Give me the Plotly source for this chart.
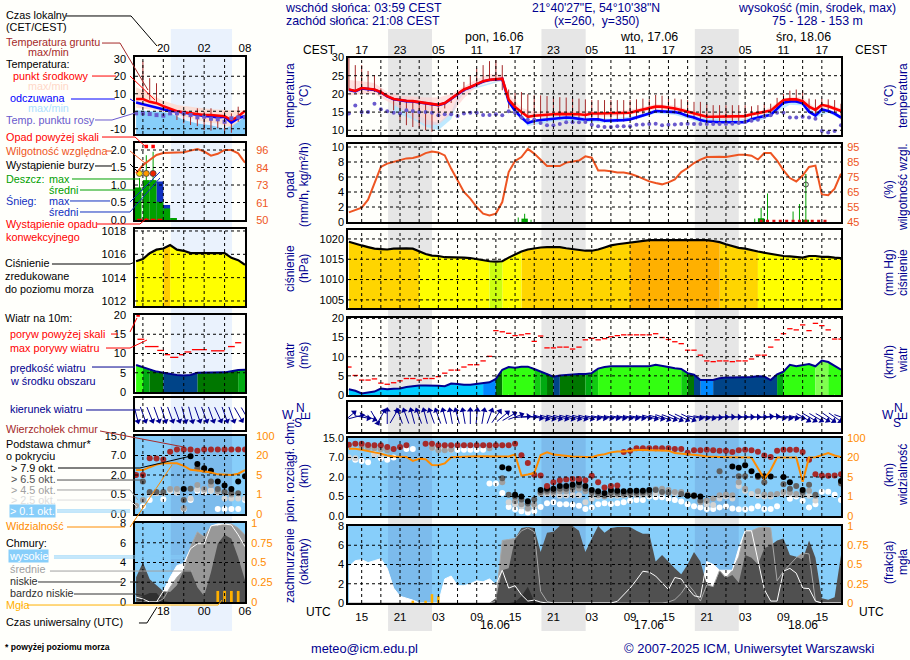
import numpy as np
import plotly.graph_objects as go

# ---- time axes: hours from 15.06 00 UTC (main), arbitrary legend day (left)
T = list(range(13, 91))
LT = list(range(14, 31))
SUN_NIGHTS = [(19.13, 26.0), (43.13, 50.05), (67.13, 74.0)]
LEFT_NIGHT = (19.1, 28.1)

TOP_TICKS = [15, 21, 27, 33, 39, 45, 51, 57, 63, 69, 75, 81, 87]
TOP_LABELS = ['17', '23', '05', '11', '17', '23', '05', '11', '17', '23', '05', '11', '17']
UTC_LABELS = ['15', '21', '03', '09', '15', '21', '03', '09', '15', '21', '03', '09', '15']
L_TICKS = [18, 24, 30]
L_TOP_LABELS = ['20', '02', '08']
L_UTC_LABELS = ['18', '00', '06']

# ---- main panel series, hourly t=13..90
TEMP = [21.2,20.8,21.6,21.5,21.2,20.5,19.4,18.6,18.3,18.1,
        18.0,17.8,17.5,17.2,17.0,17.5,18.7,20.1,21.2,21.9,
        22.8,23.5,23.9,24.1,24.2,18.4,16.4,15.0,13.7,14.0,
        14.2,14.3,14.4,14.5,14.5,14.5,14.4,14.2,14.6,14.6,
        14.6,14.6,14.6,14.6,14.8,15.3,15.7,16.1,16.5,16.5,
        16.3,16.0,15.6,15.1,14.6,14.2,13.7,13.7,13.7,13.7,
        13.7,13.7,13.9,14.4,14.8,15.0,15.4,16.9,18.3,18.5,
        18.5,18.0,16.5,15.6,17.0,16.6,16.0,15.3]
FEELS = [21.1,20.7,21.5,21.4,21.1,20.4,19.3,18.5,18.2,18.0,
         17.9,17.7,17.4,17.1,16.9,17.4,18.6,20.0,21.1,21.8,
         22.7,23.4,23.8,24.0,24.1,17.9,15.3,13.5,12.0,12.6,
         12.8,13.0,13.2,13.4,13.5,13.4,13.2,12.9,13.0,13.0,
         12.6,12.6,12.7,12.8,13.0,13.5,14.2,14.6,15.3,15.2,
         15.0,15.0,14.6,13.9,13.5,12.8,12.4,12.2,12.2,12.2,
         12.2,12.2,12.2,13.0,13.5,13.9,14.2,16.0,17.6,17.9,
         17.9,17.4,15.1,14.0,15.7,15.3,14.6,13.5]
DEW = [14.6,16.8,15,15,17.3,15.8,15.2,14.8,14.6,15.5,
       15.3,15,15,14.8,14.1,14.4,14.4,13.9,14.6,14.8,
       14.8,14.2,14.2,14.4,14.1,15.2,14.8,13.5,12.9,12.9,
       12,11.4,11.4,11.7,12.2,12.2,12.2,12.3,11.5,11.1,
       10.9,10.9,11.1,11.1,11.1,11.5,11.6,11.7,11.8,11.4,
       11.5,11.6,11.7,11.8,11.7,11.7,11.7,11.7,11.7,11.7,
       11.8,12,12.3,12.6,12.9,13.7,14.1,14.8,14.8,13.5,
       13.5,13.7,13.5,13.2,9.8,9.4,9.8,11.4]
TG_MAX = [30,27.9,27.9,26.3,25.1,21.5,19.8,18.9,18.5,18.3,
          18.2,18,17.8,17.5,17.3,17.7,18.9,20.4,23.3,25.1,
          27,27.9,29,29.3,27.9,21.2,20.3,20.5,19.9,19.6,
          19.6,19.4,19.2,19.1,19,18.8,18.7,18.5,18.3,18.3,
          18.3,18.3,18.3,18.3,18.3,18.5,18.7,18.5,19.7,19.5,
          18.7,18.7,18.5,18.3,17.8,17.8,17.2,16.9,16.9,16.9,
          16.9,16.9,16.9,16.6,16.9,17.3,17.3,18.9,20,20.9,
          21.2,20.9,18.7,18.5,18.7,18.5,18.3,17.3]
TG_MIN = [21,20.8,20,20.5,20.5,20,19,15.5,12.7,11.4,
          10.9,10.7,10,9.6,14.2,16,17.5,18.4,20.5,21.5,
          22.5,23,23.5,24,21,16,14.5,13,12,11.4,
          12,12.4,12.8,13,13,13,12.8,12.5,12.5,12.5,
          12.2,12.2,12.3,12.4,12.6,13,13.8,14.2,15,14.8,
          14.6,14.6,14.2,13.5,13,12.4,12,11.8,11.8,11.8,
          11.8,11.8,11.8,12.5,13,13.5,13.8,15.6,17.2,17.5,
          17.5,17,14.8,13.6,15.3,14.9,14.2,13]

PINK_T = [13,15,17,19,21,23,25,27,29,31,33,35,37,38,40,42,46,50,54,58,61,64,68,74,78,80,82,84,86,88,90]
PINK_HI = [23.8,23.5,23,20.5,19.5,19.3,19,19,20,22,24,25.5,25.3,20,16.2,15,15.3,15.2,15,16,17.2,16.8,14.7,14.3,15.5,17.5,19.3,19,16.2,17.3,16]
PINK_LO = [19.5,20,20,18,16,13.5,11.5,11.5,14.5,18.8,22,23.3,23.5,17.5,14.3,13.5,14,13.8,13.8,14.6,15.8,15.4,13.5,13.2,14.4,16.2,17.8,17.6,15,16,14.8]
ICE_T = [20,23,25,27,29,30,31,37,38,41,46,50,54,58,61,64,68,74,78,80,82,84,86,88,90]
ICE_HI = [18,15,13,12,15,19,21,24,18,12.6,14,13.6,13.2,14,15.8,15.5,13.4,12.8,14.4,16.6,18.4,18,14.6,15.8,14]
ICE_LO = [15,13,11,10,13,17.5,20.5,23.6,17,11.2,12.7,12.3,12,13,14.7,14.2,12.2,11.7,13,15,17,16.8,13.5,14.8,13]

RH = [51.4,52.8,54.6,59.9,70.6,81.7,83.9,85.2,86.6,87.4,
      87.7,88.8,90.9,92,91.4,89.4,80.6,72.8,65,60.6,
      55,50.6,49.4,50.6,58.3,78.3,85.7,88.3,93.7,90.6,
      86.6,82.3,82.3,82.3,84.6,85.4,86,88.8,87.9,79.4,
      79.4,78.8,78,78,77.2,75.7,73.9,72.1,71,70.1,
      71.4,73.4,78.3,81,84.3,86.6,88.3,88.5,88.5,88.3,
      89.2,89.9,89.9,89.2,86.6,91,91,86,79.4,74.3,
      72,76,81.7,82.6,63.4,62.8,67.2,77.2]
RAIN_T = [40.5, 77.5, 84.5]
RAIN_MEAN = [0.45, 0.5, 0.3]
RAIN_MAX_T = [39.5, 40.5, 41.5, 76.5, 77.5, 78.5, 82.5, 83.5, 84.5]
RAIN_MAX = [0.6, 1.1, 0.3, 0.45, 1.9, 3.8, 1.4, 2.4, 6.4]
CONV_T = [77.5, 78.5, 79.5, 80.5, 81.5, 82.5, 83.5, 84.5, 85.5, 86.5, 87.5]
CONV_Y = [0.1] * 11
STORM_T = [84.5]
STORM_Y = [5.0]

PRESS = [1019.3,1018.8,1018.4,1018,1017.6,1017.5,1017.4,1017.6,1017.7,1017.7,
         1017.6,1016.9,1016.3,1015.9,1015.8,1015.5,1015.5,1015.4,1015.4,1015.3,
         1015,1014.8,1014.5,1014.4,1014.5,1015.4,1016.2,1016.9,1017.4,1017.7,
         1017.9,1018,1018,1018,1017.7,1017.5,1017.3,1017.1,1017.1,1017.4,
         1017.9,1018.4,1018.7,1018.9,1019.1,1019.3,1019.6,1019.7,1019.7,1019.7,
         1019.7,1019.7,1019.7,1019.8,1019.8,1019.8,1019.7,1019.5,1019.2,1018.7,
         1018.2,1017.8,1017.6,1017.2,1016.9,1016.6,1016.3,1016,1015.8,1015.7,
         1015.5,1015.4,1015.8,1015.8,1015.6,1015.6,1015.4,1015.3]
WIND = [1.5,1.1,.4,.6,.9,1.7,1.5,1.6,1.7,2.1,
        2.4,2.5,2.5,2.5,2.4,2.3,3,2.9,2.7,2.7,
        2.9,3,3.3,4.2,6.6,7.3,7.1,7.4,7.4,6.8,
        6.1,5.6,4.8,5.1,5.3,5.4,5.5,5.5,5.7,6.9,
        7.3,7.5,7.5,7.5,7.5,7.5,7.5,7.5,7.9,7.5,
        7.3,7,6.8,5.7,5.3,3.9,3.9,3.9,4.4,4.6,
        4.6,4.6,4.6,4.7,4.9,4.8,3.9,5.4,6.1,7.9,
        7.5,7.9,8.1,7.5,9,8.6,7.5,6.6]
GUST = [7.3,5.1,3.9,3.9,4.2,3.1,2.8,3.2,3.7,4.3,
        4.3,3.9,4.3,4.3,4.8,5.7,6.5,6.5,7.3,7.9,
        7.9,8.9,10.1,16.8,16.5,16.1,15.5,15.7,16,14,
        15.4,12.3,12.3,12.5,12.5,12,12.5,14.4,14.8,14.4,
        14.7,15.2,15.5,15.7,15.7,15.7,15.7,15.7,16,15,
        14.5,13.9,13.4,11.7,11.7,10.4,8.9,8.7,8.9,8.9,
        8.7,8.9,8.9,9.4,10.4,10.4,12.5,14.4,16,17.3,
        17,18.3,16.8,18.7,18.1,17,14.6,14.6]
WIND_DIR = [50,75,100,110,150,30,0,30,340,340,
            345,340,345,340,340,345,350,345,350,0,
            5,10,20,35,50,60,70,85,90,100,
            105,105,105,105,105,105,105,105,100,100,
            100,100,100,100,100,100,100,105,105,110,
            110,115,115,115,100,100,100,95,90,90,
            90,90,90,90,90,85,85,100,100,100,
            100,120,120,120,120,125,125,110]
VIS = [56,56,52,45,41,36,28,24,22,22,
       17.4,19,18.6,14.3,14,15.5,21,23,24,24,
       25,25,25,25,22,24,32,6,6.9,8,
       30,41,32,29,24,24,23,22,21,29,
       33,41,45,45,49,51,51,51,51,51,
       48,38,36,32,29,28,24,22,21,21,
       21,21,21,20,11.7,4.6,10.4,20,20,20,
       20,4,20,21,28,38,28,22]

# cloud tops and bases (km)
TOP = [12.2,12.6,12.6,12.1,12,12,11.3,10.5,11.3,12,
       None,None,12.6,12.6,12,12,12,12,12,12,
       12,12,12,12,12,12,12.6,7.9,5.6,2.6,
       2.4,1.3,1.6,1.75,1.8,1.85,1.85,1.75,2.3,1.6,
       1.2,1.3,1.35,9.3,9.8,10.8,10.8,10.8,10.8,10.8,
       10.8,10.5,10.5,9,10,10,10.2,10,9.8,9.8,
       9.3,10,10.2,10,9.4,7.8,7.2,9.8,10.2,10.2,
       10.2,9.3,6.4,2.7,2.4,2.3,2.4,2.7]
B79_T = [37,38,39,40,41,43,44,45,46,47,48,49,50,51,52,53,54,55,56,57,58,59,60,66,67,68,73,74,75,76,77,78,79,81,82,84,90]
B79 = [4.5,4.2,.63,.5,.38,1,1.1,1.1,1.3,1.3,1.4,1.6,1.3,1,.9,.76,1,.95,.9,.95,.95,.95,1,.55,.55,.5,4.7,4.4,5,3.5,2.3,2.2,2.1,2,1.6,1,1.7]
B65_T = [37,38,39,40,41,42,43,44,45,46,47,48,49,50,51,52,53,54,55,56,57,58,59,60,61,62,63,65,66,67,68,71,74,75,77,78,81,82,83,84,85,86,90]
B65 = [1.9,.63,.5,.42,.32,.42,.85,.95,.95,1.1,1.1,1.2,1.35,1.1,.85,.75,.6,.8,.78,.75,.78,.78,.8,.85,1,.85,.8,.7,.6,.6,.4,3.5,2.2,2.2,2,1.6,1.45,1.1,1.3,.85,1.4,.63,1.5]
B45_T = [15,16,17,18,19,26,27,28,29,35,37,39,40,41,42,43,44,45,46,47,48,49,50,51,52,53,54,55,56,57,58,59,60,61,62,63,64,65,66,67,68,69,70,71,72,73,74,75,77,78,79,80,81,82,83,84,85,86]
B45 = [11.5,11,10.8,10.5,10,11,10,10,10.2,10.8,1.6,.38,.3,.2,.3,.75,.8,.8,.9,.9,1,1.1,.9,.7,.6,.5,.65,.65,.62,.65,.65,.68,.7,1.05,1.1,1,.85,.85,.65,.5,.35,.4,.45,.6,.65,.6,1.6,1.1,.9,.65,.65,.7,.85,.8,.7,.6,.95,.55]
B25_T = [13,14,17,18,26,27,28,29,38,39,40,41,42,43,44,45,46,47,48,49,50,51,52,53,54,55,56,57,58,59,60,61,62,63,64,65,69,70,71,72,73,74,75,76,77,78,79,81,82,83,85,86]
B25 = [7,6.8,8,8,11,10.3,10.3,10.4,.35,.3,.25,.18,.25,.7,.7,.7,.55,.57,.6,.6,.35,.44,.5,.55,.55,.55,.58,.6,.6,.6,.6,.75,.75,.75,.75,.75,.3,.28,.45,.5,.45,1.3,.95,.7,.55,.5,.5,.7,.7,.6,.55,.4]
B01_T = [14,15,16,17,18,19,20,22,23,26,27,28,29,30,31,32,33,34,35,36,37,38,39,40,41,42,43,44,45,46,47,48,49,50,51,52,53,54,55,56,57,58,59,60,61,62,63,64,65,66,67,68,69,70,71,72,73,74,75,76,77,78,79,80,82,83,84,85,86,87,88,89,90]
B01 = [6.4,6.1,5.8,8.3,6.8,6.4,7,10.5,10.5,12,10.5,10.5,10.2,10.2,10.2,10.2,10.2,10.2,1.5,1.5,.76,.23,.17,.12,.09,.12,.23,.33,.35,.3,.3,.29,.26,.18,.22,.3,.33,.31,.33,.35,.39,.41,.41,.5,.48,.48,.44,.41,.37,.3,.25,.22,.18,.18,.22,.25,.19,.17,.17,.19,.25,.18,.18,.25,.44,.5,.39,.22,.3,.86,.86,.63,.41]

# cloud cover (octants), fog (fraction)
HIGH = [3.8,4.4,4.5,4.2,4.4,4.6,3.6,1.55,.7,.5,
        .3,0,0,0,0,2.5,2.8,1.8,1.8,2,
        2.3,2.2,2.5,1.9,3.4,1.55,1.8,.85,.2,.3,
        .1,0,0,0,0,0,0,0,0,0,
        0,0,.17,.85,1.55,2.4,3.3,3.2,2.8,2.1,
        1.4,2.65,2.5,1.55,.76,.6,4.3,4,3.4,3.4,
        3.4,5.7,7.5,7.5,4.3,1.4,.2,.2,3.3,3.6,
        3.1,1.55,1.5,.2,0,0,0,0]
MID = [0,0,0,0,0,0,0,0,0,0,
       0,0,0,0,0,0,0,0,0,0,
       0,0,0,.2,6.5,6.6,6.7,7.5,7.8,7.4,
       1.2,.17,0,0,0,0,0,0,0,0,
       0,0,0,0,0,0,0,0,0,0,
       .1,.35,1,2,1.2,.2,1.9,1.7,3.4,2.6,
       3.4,4.8,7.5,7.5,7.8,7.9,7.8,2.3,3.3,4,
       4.7,5.2,5.1,.2,0,0,0,0]
LOW = [0,0,0,0,0,0,0,0,0,0,
       0,0,0,0,0,0,0,0,0,0,
       0,0,0,.5,3.4,3.6,6.7,7.8,7.9,7.8,
       5.3,7.3,7.4,8,8,8,7.5,5.3,6.7,8,
       7.3,7.8,7.9,7.9,7.9,7.5,7.2,7.2,4.3,5,
       4.3,3.6,3,4,5.3,4.3,1.9,1.7,3.3,2.6,
       2.9,2.1,5,4.7,4,5.7,6,6.5,6.7,5,
       4.8,4.5,6.5,4.7,.5,.35,.6,5]
VLOW_T = [38, 39, 40, 41, 42, 43]
VLOW = [0, .1, .7, 1.7, .2, 0]
FOG_T = [23, 25, 26, 27]
FOG = [.03, .03, .115, .09]

# ---- left (legend) panel series, hourly t=14..30
L_TEMP = [7,7,5.4,4.6,2.9,1.3,0,-.6,-1.2,-1.8,-2.2,-2.2,-2.6,-2.8,-5,-3,.2]
L_FEELS = [5,4,2.8,2,.9,.1,-.1,-.8,-1.2,-1.8,-2.7,-3,-3.5,-3.2,-6.6,-4,-2.7]
L_DEW = [-1.2,-1.2,-1.6,-2.2,-2.5,-1.2,-1.2,-1.2,-2.2,-3.5,-3.1,-4.3,-4.6,-6,-4,-3.5,-3.5]
L_TG_T = list(range(15, 30))
L_TG_MAX = [28.5,18.9,16,2.6,1,-.2,-2.2,-2.2,1.7,-.2,1.7,-3.1,-.2,-1.2,2.6]
L_TG_MIN = [6.5,6.5,4.5,-.2,-1.2,-5,-6.9,-7.9,-8.5,-10.8,-11.1,-9.8,-12.7,-12.3,-6]
L_PINK_T = [14,16,18,20,22,24,26,28,30]
L_PINK_HI = [13.7,10,6,3.5,2.5,1.5,1,.5,.5]
L_PINK_LO = [2,1,0,-2,-4,-6,-7,-9,-3]
L_SKY_T = [14,18,19,21,23,25,27,29,30]
L_SKY = [.5,-.5,-1,-5,-7,-8,-10,-6,-2.5]
L_RH = [80.7,86,89.4,92.7,94,94.2,94.5,94.5,95.6,96.7,95,92.3,93.5,96,96,93.8,87.7]
L_RAIN_T = [14.3,15.5,16.5,17.5,18.5,19.5]
L_RAIN = [.93,1.14,1.14,.52,.33,.05]
L_SNOW = [0,0,0,1.1,.43,0]
L_RAIN_MAX_T = [14.5,15.5,16.5]
L_RAIN_MAX = [1.2,1.85,1.95]
L_DROP_T = [15.5,16.5]
L_DROP_Y = [2.1,2.1]
L_STORM_T = [14.5,15.5,16.5]
L_STORM_Y = [1.33,1.33,1.33]
L_STORM_C = ['#FFE000','#FF9900','#EE2200']
L_CONV_T = [14.5,15.5,16.5,17.5]
L_PRESS = [1015.4,1015.6,1016.1,1016.4,1016.5,1016.8,1016.4,1016.3,1016.1,1016.1,1016.1,1016.1,1016.1,1016.1,1015.7,1015.5,1015.1]
L_WIND = [7,6.5,5.8,5.3,5,4.7,4.4,4.3,4.4,5,5,5,5,5.1,5.4,5.7,5.8]
L_GUST_T = [14.7,16.3,17.6,18.6,19.6,20.7,21.6,23.3,26,28,29]
L_GUST_W = [.5,1,.5,.4,.6,.4,.5,1.1,1,.5,.45]
L_GUST = [13.7,11.8,10.8,9.7,9,9.7,10.4,11,10.7,11.8,12.8]
L_GUST_OVER_T = [14.3]
L_GUST_OVER = [20]
L_DIR = [165,160,158,160,162,160,160,165,165,160,160,160,155,160,160,150,150]
L_TOP = [2,2,6.3,6.2,6,8.5,9.5,9.5,9.5,8.9,9.5,9.5,9.5,9.5,9.5,9.5,9.5]
L_B79_T = [21,22,23,24,25,26,27,28,29,30]
L_B79 = [.93,6.8,4.8,3.7,3.1,1.5,1.2,.93,1.5,1.9]
L_B65_T = [15,16,17,18,21,22,23,24,25,26,27,28,29]
L_B65 = [1.5,.7,.7,.7,.36,.95,3.7,3.3,1.5,.93,.7,.62,.6]
L_B45_T = [14,15,19,20,21,23,24,25,26,27,28]
L_B45 = [.21,.36,.93,.93,.15,1.24,.93,1.24,.75,.7,.5]
L_B25_T = [16,17,18,19,20,22,23,24,25,26,27,28,29,30]
L_B25 = [.55,.6,.6,.85,.65,.4,.9,.8,.8,.65,.4,.4,.4,.4]
L_B01_T = [14,15,16,18,19,20,21,22,23,24,25,26,27,28,29,30]
L_B01 = [.21,.2,.36,.38,.78,.65,.13,.36,.78,.68,.78,.13,.13,.13,.13,.36]
L_VIS = [8.8,8.8,11,13,14,14,14,12,9,8.5,8,7,5.5,5,5,6,8.8]
L_LOW = [2.5,4,2.3,1.7,1.1,1,1.7,3.2,3.2,1.5,.6,3,5.9,6.8,6.4,4.5,2.2]
L_MID = [0,0,0,0,.3,1.5,2.5,3.2,5.6,7.1,6.6,7.7,7.7,7.9,7.9,7.5,6.8]
L_HIGH = [.5,.3,0,0,1.1,2.5,3.7,3.9,5.4,5.9,5.9,7.7,7.9,7.9,7.8,6.8,5.6]
L_VLOW = [0,.6,.9,.9,.1,0,0,0,0,0,0,0,0,0,0,0,0]
L_FOG_T = [26,27,28,29]
L_FOG = [.14,.14,.14,.14]

BASE_KM = [0, .5, 2, 7, 15]
VIS_KM = [0, 1, 5, 20, 100]

FONT = 'Liberation Sans'
PAGE = '#FFFFFB'
NAVY = '#000090'
SKY = '#87CEFA'
SKY_NIGHT = '#7CBBEC'
ORANGE = '#FF8C00'
RH_COL = '#EE5522'
BROWN = '#A52A2A'
W, H = 910, 660


def xp(x):
    return x / W


def yp(y):
    return 1 - y / H


fig = go.Figure()
layout = {}
shapes = []
annots = []
n_axis = [0]


def new_id():
    n_axis[0] += 1
    return '' if n_axis[0] == 1 else str(n_axis[0])


def panel(xpx, ypx, xr, yr, yticks, ylabels, rr=None, rticks=None, rlabels=None, rcol='black',
          top=None, bottom=None, gridy=None, gridx=None, lgap=0, rgap=3, size=11, standoff=0):
    i = new_id()
    xax = dict(domain=[xp(xpx[0]), xp(xpx[1])], range=xr, anchor='y' + i, showgrid=False, zeroline=False,
               showline=True, mirror=True, linecolor='black', linewidth=1.5, fixedrange=True,
               tickfont=dict(family=FONT, size=11.5, color='black'), ticks='', showticklabels=False)
    if top:
        xax.update(side='top', showticklabels=True, tickmode='array', tickvals=top[0], ticktext=top[1],
                   ticks='outside', ticklen=2, tickcolor='rgba(0,0,0,0)', ticklabelstandoff=standoff)
    if bottom:
        xax.update(side='bottom', showticklabels=True, tickmode='array', tickvals=bottom[0], ticktext=bottom[1],
                   ticks='outside', ticklen=2, tickcolor='rgba(0,0,0,0)', ticklabelstandoff=standoff)
    yax = dict(domain=[yp(ypx[1]), yp(ypx[0])], range=yr, anchor='x' + i, showgrid=False, zeroline=False,
               showline=True, mirror=True, linecolor='black', linewidth=1.5, fixedrange=True,
               tickfont=dict(family=FONT, size=size, color='black'), tickmode='array',
               tickvals=yticks, ticktext=ylabels, ticks='outside' if lgap else '', ticklen=lgap,
               tickcolor='rgba(0,0,0,0)')
    layout['xaxis' + i] = xax
    layout['yaxis' + i] = yax
    ra = None
    if rr is not None:
        j = new_id()
        ra = 'y' + j
        layout['yaxis' + j] = dict(domain=yax['domain'], range=rr, anchor='x' + i, overlaying='y' + i, side='right',
                                   showgrid=False, zeroline=False, fixedrange=True, showline=False,
                                   tickfont=dict(family=FONT, size=size, color=rcol), tickmode='array',
                                   tickvals=rticks, ticktext=rlabels, ticks='outside' if rgap else '', ticklen=rgap,
                                   tickcolor='rgba(0,0,0,0)')
    xa, ya = 'x' + i, 'y' + i
    for g in (gridy or []):
        shapes.append(dict(type='line', xref=xa + ' domain', yref=ya, x0=0, x1=1, y0=g, y1=g, layer='above',
                           line=dict(color='black', width=1, dash='3px,3px')))
    for g in (gridx or []):
        shapes.append(dict(type='line', xref=xa, yref=ya + ' domain', x0=g, x1=g, y0=0, y1=1, layer='above',
                           line=dict(color='black', width=1, dash='3px,3px')))
    return xa, ya, ra


def add_line(xa, ya, x, y, col, width=2):
    fig.add_trace(go.Scatter(x=x, y=y, xaxis=xa, yaxis=ya, mode='lines', line=dict(color=col, width=width),
                             hoverinfo='skip', connectgaps=False))


def add_dots(xa, ya, x, y, col, size=6, sym='circle'):
    fig.add_trace(go.Scatter(x=x, y=y, xaxis=xa, yaxis=ya, mode='markers',
                             marker=dict(color=col, size=size, symbol=sym, line=dict(width=0)), hoverinfo='skip'))


def add_band(xa, ya, x, hi, lo, col):
    fig.add_trace(go.Scatter(x=list(x) + list(x)[::-1], y=list(hi) + list(lo)[::-1], xaxis=xa, yaxis=ya, mode='none',
                             fill='toself', fillcolor=col, hoverinfo='skip'))


def add_whiskers(xa, ya, x, lo, hi, col, width=1):
    xs, ys = [], []
    for a, b, c in zip(x, lo, hi):
        xs += [a, a, None]
        ys += [b, c, None]
    add_line(xa, ya, xs, ys, col, width)


def add_dashes(xa, ya, x, y, half, col, width=1.3):
    xs, ys = [], []
    halves = half if isinstance(half, list) else [half] * len(x)
    for a, b, h in zip(x, y, halves):
        xs += [a - h, a + h, None]
        ys += [b, b, None]
    add_line(xa, ya, xs, ys, col, width)


def add_coloured_fill(xa, ya, x, y, base, colour_of):
    # one polygon per time step, coloured by the value inside the step
    groups = {}
    for a, b, v0, v1 in zip(x[:-1], x[1:], y[:-1], y[1:]):
        c = colour_of((v0 + v1) / 2)
        gx, gy = groups.setdefault(c, ([], []))
        gx += [a, b, b, a, a, None]
        gy += [base, base, v1, v0, base, None]
    for c, (gx, gy) in groups.items():
        fig.add_trace(go.Scatter(x=gx, y=gy, xaxis=xa, yaxis=ya, mode='none', fill='toself', fillcolor=c,
                                 hoverinfo='skip'))


def press_colour(p):
    if p < 1014.6:
        return '#CCFF11'
    if p < 1017.0:
        return '#FFFF00'
    if p < 1019.2:
        return '#FFD500'
    return '#FFB000'


def wind_colour(v):
    for lim, c in [(3.1, '#00CCFF'), (4.0, '#0088FF'), (5.0, '#004488'), (5.6, '#007700'), (6.2, '#00AA11'),
                   (6.7, '#11CC11'), (8.2, '#33FF11')]:
        if v < lim:
            return c
    return '#80FF50'


def add_arrows(xa, ya, x, angles, pxh, length=7):
    xs, ys, hx, hy = [], [], [], []
    for t, a in zip(x, angles):
        r = np.radians(a)
        dx, dy = length * np.sin(r) / pxh, length * np.cos(r)
        xs += [t - dx, t + dx, None]
        ys += [-dy, dy, None]
        hx.append(t + dx)
        hy.append(dy)
    add_line(xa, ya, xs, ys, '#000090', 1)
    fig.add_trace(go.Scatter(x=hx, y=hy, xaxis=xa, yaxis=ya, mode='markers', cliponaxis=False, hoverinfo='skip',
                             marker=dict(symbol='triangle-up', size=6, color='#000090', angle=list(angles),
                                         line=dict(width=0))))


def base_pos(v):
    return [None if a is None else float(np.interp(a, BASE_KM, [0, 1, 2, 3, 4])) for a in v]


def vis_pos(v):
    return [float(np.interp(a, VIS_KM, [0, 1, 2, 3, 4])) for a in v]


def add_cloud_dots(xa, ya, top_t, top, layers, size=6):
    for (lx, ly), col in zip(layers, ['white', '#D3D3D3', '#A0A0A0', '#606060', 'black']):
        add_dots(xa, ya, lx, base_pos(ly), col, size)
    add_dots(xa, ya, top_t, base_pos(top), BROWN, size)


def add_cover(xa, ya, x, high, mid, low, vlow_x, vlow):
    for yy, col in [(high, 'white'), (mid, '#989898'), (low, '#505050')]:
        fig.add_trace(go.Scatter(x=x, y=yy, xaxis=xa, yaxis=ya, mode='none', fill='tozeroy', fillcolor=col,
                                 hoverinfo='skip'))
    fig.add_trace(go.Scatter(x=vlow_x, y=vlow, xaxis=xa, yaxis=ya, mode='none', fill='tozeroy', fillcolor='#303030',
                             hoverinfo='skip'))
    add_line(xa, ya, x, mid, '#A8A8A8', 1)
    add_line(xa, ya, x, high, 'white', 1)


def label(x, y, text, col='black', size=10.8, anchor='left', angle=0, bg=None, bold=False):
    if anchor == 'left':
        x -= 2
    a = dict(xref='paper', yref='paper', x=xp(x), y=yp(y), text=('<b>%s</b>' % text) if bold else text, showarrow=False,
             xanchor=anchor, yanchor='middle', textangle=angle, font=dict(family=FONT, size=size, color=col))
    if bg:
        a.update(bgcolor=bg, borderpad=0)
    annots.append(a)


def leader(col, pts, width=1):
    path = 'M ' + ' L '.join('%.4f %.4f' % (xp(a), yp(b)) for a, b in pts)
    shapes.append(dict(type='path', xref='paper', yref='paper', path=path, layer='above',
                       line=dict(color=col, width=width)))


# ---- night bands under everything
PANEL_TOP, PANEL_BOT = yp(29), yp(631)

# panel layout: (x pixels, y pixels)
LX, MX = (135, 245), (348, 841)
LR, MR = [13.84, 30], [12.86, 90]
L3 = [15, 18, 21, 24, 27]
M3 = list(range(15, 90, 3))

# ---- temperature
lxa, lya, lra = panel(LX, (57, 134), LR, [-13, 31], [-10, 0, 10, 20, 30], ['-10', '0', '10', '20', '30'],
                      [-13, 31], [-10, 0, 10, 20, 30], ['-10', '0', '10', '20', '30'], top=(L_TICKS, L_TOP_LABELS),
                      gridy=[-10, 0, 10, 20], gridx=L3, lgap=5, rgap=8, standoff=-3)
add_band(lxa, lya, L_SKY_T, L_SKY, [-13] * len(L_SKY), SKY)
add_band(lxa, lya, L_PINK_T, L_PINK_HI, L_PINK_LO, 'rgba(255,215,200,0.75)')
add_whiskers(lxa, lya, L_TG_T, L_TG_MIN, L_TG_MAX, BROWN, 1)
add_line(lxa, lya, LT, L_FEELS, '#0000FF', 2.5)
add_line(lxa, lya, LT, L_TEMP, '#FF0000', 2.5)
add_dots(lxa, lya, LT, L_DEW, '#6A5ACD', 4, 'square')
first_left = lxa

mxa, mya, mra = panel(MX, (57.5, 135), MR, [8.7, 30], [10, 15, 20, 25, 30], ['10', '15', '20', '25', '30'],
                      [8.7, 30], [10, 15, 20, 25, 30], ['10', '15', '20', '25', '30'], top=(TOP_TICKS, TOP_LABELS),
                      gridy=[10, 15, 20, 25], gridx=M3, standoff=-5)
first_main = mxa
add_band(mxa, mya, ICE_T, ICE_HI, ICE_LO, 'rgba(175,228,255,0.8)')
add_band(mxa, mya, PINK_T, PINK_HI, PINK_LO, 'rgba(255,205,205,0.6)')
add_whiskers(mxa, mya, T, TG_MIN, TG_MAX, BROWN, 1)
add_line(mxa, mya, T, FEELS, '#0000FF', 2.6)
add_line(mxa, mya, T, TEMP, '#FF0000', 2.6)
add_dots(mxa, mya, T, DEW, '#6A5ACD', 4)

# ---- rain and humidity
lxa, lya, lra = panel(LX, (143, 220), LR, [0, 2.2], [0, .5, 1, 1.5, 2], ['0.0', '0.5', '1.0', '1.5', '2.0'],
                      [50, 100.6], [50, 61, 73, 84, 96], ['50', '61', '73', '84', '96'], RH_COL,
                      gridy=[.5, 1, 1.5, 2], gridx=L3, lgap=5, rgap=8)
fig.add_trace(go.Bar(x=L_RAIN_T, y=L_SNOW, width=1, xaxis=lxa, yaxis=lya, marker=dict(color='#1030C0', line_width=0), hoverinfo='skip'))
fig.add_trace(go.Bar(x=L_RAIN_T, y=L_RAIN, width=1, xaxis=lxa, yaxis=lya, marker=dict(color='#00A000', line_width=0), hoverinfo='skip'))
add_whiskers(lxa, lya, L_RAIN_MAX_T, [.9, 1.1, 1.1], L_RAIN_MAX, '#00A000', 1)
add_dots(lxa, lya, L_DROP_T, L_DROP_Y, '#FF0000', 3.5, 'square')
fig.add_trace(go.Scatter(x=L_STORM_T, y=L_STORM_Y, xaxis=lxa, yaxis=lya, mode='markers', hoverinfo='skip',
                         marker=dict(color=L_STORM_C, size=6, line=dict(color='#404040', width=0.8))))
add_dashes(lxa, lya, L_CONV_T, [.015] * 4, .35, '#FF0000', 1.5)
add_line(lxa, lra, LT, L_RH, RH_COL, 2)

mxa, mya, mra = panel(MX, (144, 222), MR, [0, 10.4], [0, 2, 4, 6, 8, 10], ['0', '2', '4', '6', '8', '10'],
                      [45, 97], [45, 55, 65, 75, 85, 95], ['45', '55', '65', '75', '85', '95'], RH_COL,
                      gridy=[2, 4, 6, 8, 10], gridx=M3)
fig.add_trace(go.Bar(x=RAIN_T, y=RAIN_MEAN, width=1, xaxis=mxa, yaxis=mya, marker=dict(color='#00A000', line_width=0), hoverinfo='skip'))
add_whiskers(mxa, mya, RAIN_MAX_T, [0] * len(RAIN_MAX_T), RAIN_MAX, '#00A000', 1)
add_dots(mxa, mya, CONV_T, CONV_Y, '#DD1111', 3, 'square')
fig.add_trace(go.Scatter(x=STORM_T, y=STORM_Y, xaxis=mxa, yaxis=mya, mode='markers', hoverinfo='skip',
                         marker=dict(color='rgba(0,0,0,0)', size=5, line=dict(color='#404040', width=1))))
add_line(mxa, mra, T, RH, RH_COL, 2)

# ---- pressure
lxa, lya, lra = panel(LX, (229, 306), LR, [1011.57, 1018.17], [1012, 1014, 1016, 1018], ['1012', '1014', '1016', '1018'],
                      [1011.57, 1018.17], [1012, 1014, 1016, 1018], ['1012', '1014', '1016', '1018'],
                      gridy=[1012, 1014, 1016, 1018], gridx=L3, lgap=5, rgap=8)
add_coloured_fill(lxa, lya, LT, L_PRESS, 1011.57, lambda p: '#FFCC00' if p > 1016.62 else '#FFFF00')
add_line(lxa, lya, LT, L_PRESS, 'black', 2.2)

mxa, mya, mra = panel(MX, (230, 308), MR, [1003, 1022.2], [1005, 1010, 1015, 1020], ['1005', '1010', '1015', '1020'],
                      [752.3, 766.7], [754, 758, 761, 765], ['754', '758', '761', '765'],
                      gridy=[1005, 1010, 1015, 1020], gridx=M3)
add_coloured_fill(mxa, mya, T, PRESS, 1003, press_colour)
add_line(mxa, mya, T, PRESS, 'black', 2.2)

# ---- wind
lxa, lya, lra = panel(LX, (315, 392), LR, [0, 20], [0, 5, 10, 15, 20], ['0', '5', '10', '15', '20'],
                      [0, 72], [0, 18, 36, 54, 72], ['0', '18', '36', '54', '72'],
                      gridy=[5, 10, 15], gridx=L3, lgap=5, rgap=8)
add_coloured_fill(lxa, lya, LT, L_WIND, 0, wind_colour)
add_line(lxa, lya, LT, L_WIND, NAVY, 2)
add_dashes(lxa, lya, L_GUST_T, L_GUST, L_GUST_W, '#FF0000')
add_dots(lxa, lya, L_GUST_OVER_T, L_GUST_OVER, '#FF0000', 3.5, 'square')

mxa, mya, mra = panel(MX, (318, 395), MR, [0, 20.1], [0, 5, 10, 15, 20], ['0', '5', '10', '15', '20'],
                      [0, 72.4], [0, 18, 36, 54, 72], ['0', '18', '36', '54', '72'],
                      gridy=[5, 10, 15, 20], gridx=M3)
add_coloured_fill(mxa, mya, T, WIND, 0, wind_colour)
add_line(mxa, mya, T, WIND, NAVY, 2)
add_dashes(mxa, mya, T, GUST, .42, '#FF0000')

# ---- wind direction
lxa, lya, _ = panel(LX, (398, 430), LR, [-16, 16], [], [], gridx=L3)
add_arrows(lxa, lya, LT, L_DIR, 6.87, 7.5)
mxa, mya, _ = panel(MX, (402, 432), MR, [-15, 15], [], [], gridx=M3)
add_arrows(mxa, mya, T, WIND_DIR, 6.39, 7)

# ---- cloud base
BASE_TICK = [0, 1, 2, 3, 4]
BASE_TXT = ['0.0', '0.5', '2.0', '7.0', '15.0']
VIS_TXT = ['0', '1', '5', '20', '100']
lxb, lyb, lrb = panel(LX, (436, 514), LR, [0, 4], BASE_TICK, BASE_TXT, [0, 4], BASE_TICK, VIS_TXT, ORANGE,
                      gridy=[1, 2, 3], gridx=L3, lgap=5, rgap=8)
add_cloud_dots(lxb, lyb, LT, L_TOP, [(L_B01_T, L_B01), (L_B25_T, L_B25), (L_B45_T, L_B45), (L_B65_T, L_B65), (L_B79_T, L_B79)])
add_line(lxb, lrb, LT, vis_pos(L_VIS), ORANGE, 2)

mxb, myb, mrb = panel(MX, (438, 516), MR, [0, 4], BASE_TICK, BASE_TXT, [0, 4], BASE_TICK, VIS_TXT, ORANGE,
                      gridy=[1, 2, 3], gridx=M3)
add_cloud_dots(mxb, myb, T, TOP, [(B01_T, B01), (B25_T, B25), (B45_T, B45), (B65_T, B65), (B79_T, B79)])
add_line(mxb, mrb, T, vis_pos(VIS), ORANGE, 2)

# ---- cloud cover and fog
OCT = [0, 2, 4, 6, 8]
FRAC = [0, .25, .5, .75, 1]
FRAC_TXT = ['0', '0.25', '0.5', '0.75', '1']
lxc, lyc, lrc = panel(LX, (523, 602), LR, [0, 8], OCT, ['0', '2', '4', '6', '8'], [0, 1], FRAC, FRAC_TXT, ORANGE,
                      bottom=(L_TICKS, L_UTC_LABELS), gridy=[2, 4, 6], gridx=L3, lgap=5, rgap=3, standoff=-5)
add_cover(lxc, lyc, LT, L_HIGH, L_MID, L_LOW, LT, L_VLOW)
fig.add_trace(go.Bar(x=L_FOG_T, y=L_FOG, width=.4, xaxis=lxc, yaxis=lrc, marker=dict(color='#FFB000', line_width=0), hoverinfo='skip'))

mxc, myc, mrc = panel(MX, (526, 603), MR, [0, 8], OCT, ['0', '2', '4', '6', '8'], [0, 1], FRAC, FRAC_TXT, ORANGE,
                      bottom=(TOP_TICKS, UTC_LABELS), gridy=[2, 4, 6], gridx=M3)
add_cover(mxc, myc, T, HIGH, MID, LOW, VLOW_T, VLOW)
fig.add_trace(go.Bar(x=FOG_T, y=FOG, width=.4, xaxis=mxc, yaxis=mrc, marker=dict(color='#FFB000', line_width=0), hoverinfo='skip'))

# ---- backgrounds (drawn first, paper layer)
back = []
for a, b in SUN_NIGHTS:
    back.append(dict(type='rect', xref=first_main, yref='paper', x0=a, x1=b, y0=PANEL_BOT, y1=PANEL_TOP, layer='below',
                     fillcolor='#E6E6E6', line_width=0))
back.append(dict(type='rect', xref=first_left, yref='paper', x0=LEFT_NIGHT[0], x1=LEFT_NIGHT[1], y0=PANEL_BOT, y1=PANEL_TOP,
                 layer='below', fillcolor='#EAF2FD', line_width=0))
for (x0, x1), (y0, y1) in [(LX, (436, 514)), (LX, (523, 602)), (MX, (438, 516)), (MX, (526, 603))]:
    back.append(dict(type='rect', xref='paper', yref='paper', x0=xp(x0), x1=xp(x1), y0=yp(y1), y1=yp(y0), layer='below',
                     fillcolor=SKY, line_width=0))
    for a, b in (SUN_NIGHTS if x0 == 348 else [LEFT_NIGHT]):
        xa = first_main if x0 == 348 else first_left
        back.append(dict(type='rect', xref=xa, yref='paper', x0=a, x1=b, y0=yp(y1), y1=yp(y0), layer='below',
                         fillcolor=SKY_NIGHT, line_width=0))
shapes = back + shapes

# ---- header and footer
label(363, 8, 'wschód słońca: 03:59 CEST', NAVY, 12.4, 'center')
label(363, 21, 'zachód słońca: 21:08 CEST', NAVY, 12.4, 'center')
label(596, 8, '21°40\'27"E, 54°10\'38"N', NAVY, 12.2, 'center')
label(596, 21, '(x=260,  y=350)', NAVY, 12.2, 'center')
label(817, 8, 'wysokość (min, środek, max)', NAVY, 12.2, 'center')
label(817, 21, '75 - 128 - 153 m', NAVY, 12.4, 'center')
label(495, 37, 'pon, 16.06', 'black', 12.4, 'center')
label(649, 37, 'wto, 17.06', 'black', 12.4, 'center')
label(803, 37, 'śro, 18.06', 'black', 12.4, 'center')
label(319, 50, 'CEST', 'black', 12, 'center')
label(871, 50, 'CEST', 'black', 12, 'center')
label(318, 612, 'UTC', 'black', 12, 'center')
label(871, 612, 'UTC', 'black', 12, 'center')
label(495, 625, '16.06', 'black', 12, 'center')
label(649, 625, '17.06', 'black', 12, 'center')
label(803, 625, '18.06', 'black', 12, 'center')
label(364, 648, 'meteo@icm.edu.pl', NAVY, 12.8, 'center')
label(749, 648, '© 2007-2025 ICM, Uniwersytet Warszawski', NAVY, 13, 'center')

# ---- rotated axis titles
for x, y, t in [(290, 96, 'temperatura'), (304, 96, '(°C)'), (290, 185, 'opad'), (304, 185, '(mm/h, kg/m²/h)'),
                (290, 269, 'ciśnienie'), (304, 269, '(hPa)'), (290, 356, 'wiatr'), (304, 356, '(m/s)'),
                (290, 471, 'pion. rozciągł. chm.'), (304, 476, '(km)'), (290, 566, 'zachmurzenie'), (304, 562, '(oktanty)'),
                (889, 96, '(°C)'), (903, 96, 'temperatura'), (889, 190, '(%)'), (903, 187, 'wilgotność wzgl.'),
                (889, 273, '(mm Hg)'), (903, 273, 'ciśnienie'), (889, 362, '(km/h)'), (903, 360, 'wiatr'),
                (889, 475, '(km)'), (903, 475, 'widzialność'), (889, 563, '(frakcja)'), (903, 562, 'mgła')]:
    label(x, y, t, NAVY, 12, 'center', -90)

# compass marks
for x, y, t, ang in [(288, 415, 'W', 0), (300, 408, 'N', 0), (298, 423, 'S', 0), (306, 416, 'E', -90),
                     (888, 415, 'W', 0), (898, 408, 'N', 0), (897, 423, 'S', 0), (903, 416, 'E', -90)]:
    label(x, y, t, NAVY, 12, 'center', ang)

# ---- left legend texts
LEGEND = [
    (6, 15, 'Czas lokalny', 'black'), (6, 27, '(CET/CEST)', 'black'),
    (6, 42, 'Temperatura gruntu', BROWN), (28, 52, 'max/min', BROWN),
    (6, 64, 'Temperatura:', 'black'), (13, 76, 'punkt środkowy', '#FF0000'), (28, 86, 'max/min', '#FFD8C8'),
    (10, 98, 'odczuwana', '#0000FF'), (28, 108, 'max/min', '#ABE0FF'), (6, 120, 'Temp. punktu rosy', '#6A5ACD'),
    (6, 137, 'Opad powyżej skali', '#FF0000'), (6, 151, 'Wilgotność względna', RH_COL), (6, 165, 'Wystąpienie burzy', 'black'),
    (6, 179, 'Deszcz:', '#00A000'), (49, 179, 'max', '#00A000'), (49, 190, 'średni', '#00A000'),
    (6, 201, 'Śnieg:', '#1030C0'), (49, 201, 'max', '#1030C0'), (49, 212, 'średni', '#1030C0'),
    (6, 224, 'Wystąpienie opadu', '#FF0000'), (6, 237, 'konwekcyjnego', '#FF0000'),
    (5, 263, 'Ciśnienie', 'black'), (5, 276, 'zredukowane', 'black'), (5, 289, 'do poziomu morza', 'black'),
    (5, 318, 'Wiatr na 10m:', 'black'), (10, 334, 'poryw powyżej skali', '#FF0000'), (10, 348, 'max porywy wiatru', '#FF0000'),
    (10, 368, 'prędkość wiatru', NAVY), (10, 381, 'w środku obszaru', NAVY), (10, 409, 'kierunek wiatru', NAVY),
    (6, 429, 'Wierzchołek chmur', BROWN), (6, 444, 'Podstawa chmur*', 'black'), (6, 456, 'o pokryciu', 'black'),
    (11, 468, '> 7.9 okt.', 'black'), (11, 479, '> 6.5 okt.', '#505050'), (11, 490, '> 4.5 okt.', '#A0A0A0'),
    (11, 500, '> 2.5 okt.', '#DDDDDD'), (6, 526, 'Widzialność', ORANGE), (6, 543, 'Chmury:', 'black'),
    (10, 569, 'średnie', '#A0A0A0'), (10, 581, 'niskie', '#303030'), (10, 593, 'bardzo niskie', '#303030'),
    (6, 605, 'Mgła', '#FFB000'), (6, 622, 'Czas uniwersalny (UTC)', 'black'),
]
for x, y, t, c in LEGEND:
    label(x, y, t, c)
label(11, 511, '> 0.1 okt.', 'white', bg=SKY)
label(10, 556, 'wysokie', 'white', bg=SKY)
label(5, 647, '* powyżej poziomu morza', 'black', 8.6, bold=True)

LEADERS = [
    ('black', [(66, 16), (131, 16), (157, 46)]),
    (BROWN, [(102, 43), (120, 43), (148, 90)]),
    ('#FF0000', [(92, 76), (116, 76)]), ('#FF0000', [(130, 76), (155, 100)]),
    ('#0000FF', [(71, 99), (115, 99)]), ('#0000FF', [(130, 99), (135, 102)]),
    ('#6A5ACD', [(95, 120), (112, 120), (135, 113)]),
    ('#FF0000', [(102, 137), (135, 137), (146, 147)]),
    (RH_COL, [(106, 151), (112, 151)]), (RH_COL, [(130, 151), (145, 163)]),
    ('black', [(95, 166), (112, 166)]), ('black', [(130, 164), (138, 172)]),
    ('#00A000', [(72, 179), (139, 179)]), ('#00A000', [(80, 190), (145, 190)]),
    ('#1030C0', [(70, 201), (110, 201)]), ('#1030C0', [(130, 202), (160, 172)]),
    ('#1030C0', [(80, 212), (130, 212), (160, 178)]),
    ('#FF0000', [(97, 224), (140, 224), (147, 218)]),
    ('black', [(52, 264), (130, 264), (135, 262)]),
    ('#FF0000', [(111, 334), (118, 334)]), ('#FF0000', [(130, 332), (137, 318)]),
    ('#FF0000', [(106, 348), (130, 348), (147, 340)]),
    (NAVY, [(92, 367), (135, 367)]), (NAVY, [(86, 410), (140, 410)]),
    (BROWN, [(100, 431), (184, 447)]),
    ('black', [(58, 468), (140, 468), (191, 456)]),
    ('#505050', [(57, 480), (143, 480)]),
    ('#A0A0A0', [(57, 490), (130, 490), (138, 500)]),
    ('#DDDDDD', [(57, 500), (130, 500), (137, 507)]),
    (SKY, [(57, 510), (130, 510)]), (SKY, [(57, 512), (130, 512)]),
    (ORANGE, [(67, 527), (125, 527)]), (ORANGE, [(130, 527), (172, 465)]),
    (SKY, [(54, 556), (185, 556)]), (SKY, [(54, 558), (185, 558)]),
    ('#A0A0A0', [(50, 571), (193, 571)]),
    ('#303030', [(38, 582), (122, 582)]), ('#303030', [(130, 582), (140, 582)]),
    ('#303030', [(74, 594), (135, 594), (155, 598)]),
    ('#FFB000', [(27, 605), (218, 605), (222, 600)]),
    ('black', [(139, 623), (147, 623), (157, 607)]),
]
for col, pts in LEADERS:
    leader(col, pts)

fig.update_layout(**layout)
fig.update_layout(width=W, height=H, margin=dict(l=0, r=0, t=0, b=0, autoexpand=False), autosize=False, showlegend=False,
                  paper_bgcolor=PAGE, plot_bgcolor='rgba(0,0,0,0)', barmode='overlay', shapes=shapes,
                  annotations=annots, font=dict(family=FONT, size=11))

fig.write_html("out.html", config={'displayModeBar': False},
               post_script="document.body.style.margin='0';document.body.style.overflow='hidden';")
